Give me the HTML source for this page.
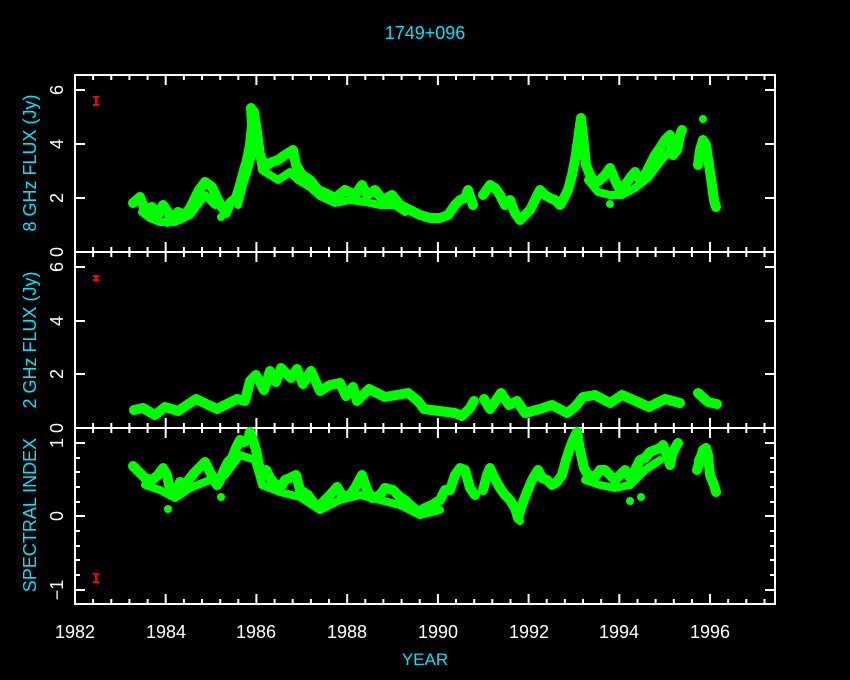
<!DOCTYPE html>
<html><head><meta charset="utf-8"><style>
html,body{margin:0;padding:0;background:#000;}
svg{display:block}
text{font-family:"Liberation Sans",sans-serif;}
</style></head><body>
<svg width="850" height="680" viewBox="0 0 850 680" xmlns="http://www.w3.org/2000/svg">
<rect width="850" height="680" fill="#000"/>
<text x="425" y="39" fill="#00e5ff" font-size="18" text-anchor="middle">1749+096</text>
<text x="425" y="665" fill="#00e5ff" font-size="17" text-anchor="middle">YEAR</text>
<g fill="#00e5ff" font-size="18" text-anchor="middle">
<text transform="translate(36,163) rotate(-90)">8 GHz FLUX (Jy)</text>
<text transform="translate(36,340) rotate(-90)">2 GHz FLUX (Jy)</text>
<text transform="translate(36,515) rotate(-90)">SPECTRAL INDEX</text>
</g>
<g fill="#fff" font-size="18" text-anchor="middle">
<text transform="translate(63,90) rotate(-90)">6</text>
<text transform="translate(63,144) rotate(-90)">4</text>
<text transform="translate(63,198) rotate(-90)">2</text>
<text transform="translate(63,252) rotate(-90)">0</text>
<text transform="translate(63,267) rotate(-90)">6</text>
<text transform="translate(63,321) rotate(-90)">4</text>
<text transform="translate(63,374) rotate(-90)">2</text>
<text transform="translate(63,428) rotate(-90)">0</text>
<text transform="translate(63,443) rotate(-90)">1</text>
<text transform="translate(63,516) rotate(-90)">0</text>
<text transform="translate(63,590) rotate(-90)">−1</text>
</g>
<g fill="#fff" font-size="18" text-anchor="middle">
<text x="75" y="638">1982</text><text x="166" y="638">1984</text><text x="256" y="638">1986</text>
<text x="347" y="638">1988</text><text x="438" y="638">1990</text><text x="529" y="638">1992</text>
<text x="619" y="638">1994</text><text x="710" y="638">1996</text>
</g>
<g stroke="#fff" stroke-width="2" fill="none">
<rect x="75" y="75" width="700" height="529"/>
<line x1="75" y1="252" x2="775" y2="252"/>
<line x1="75" y1="428" x2="775" y2="428"/>
</g>
<g stroke="#fff" stroke-width="2" id="xt"></g>
<g stroke="#fff" stroke-width="2">
<path d="M75 90h10M75 144h10M75 198h10M775 90h-10M775 144h-10M775 198h-10
M75 267h10M75 321h10M75 374h10M775 267h-10M775 321h-10M775 374h-10
M75 443h10M75 516h10M75 590h10M775 443h-10M775 516h-10M775 590h-10"/>
<path d="M75 458h5M75 472h5M75 487h5M75 502h5M75 531h5M75 546h5M75 560h5M75 575h5
M775 458h-5M775 472h-5M775 487h-5M775 502h-5M775 531h-5M775 546h-5M775 560h-5M775 575h-5"/>
</g>
<g stroke="#f00" stroke-width="2">
<path d="M96 97v8M93 97h6M93 105h6"/>
<path d="M96 276v4M93 276h6M93 280h6"/>
<path d="M96 574v8M93 574h6M93 582h6"/>
</g>
<g fill="none" stroke="#00ff00" stroke-width="10" stroke-linejoin="round" stroke-linecap="round">
<polyline points="133,203 140,197 145,210 152,207 158,215 163,205 168,212 172,220 178,212 185,215 190,208 194,200 199,190 205,182 212,187 218,200 222,207 226,213 230,203 236,198 240,185 244,170 247,160 250,145 252,125 251,108 254,112 256,125 258,140 260,155 262,160 267,165 272,162 278,160 285,155 293,150 296,165 302,175 310,180 318,190 325,193 335,198 345,190 355,195 362,185 367,195 375,190 383,200 392,195 400,205 410,210 420,215 430,218 440,218 448,215 455,205 460,200 465,198 468,190 473,205"/>
<polyline stroke-width="8" points="238,205 243,185 248,170 252,155 257,140 262,170 270,175 278,180 290,172 298,180 310,187 320,196 335,203 350,200 365,202 380,205 395,205 405,212"/>
<polyline stroke-width="8" points="142,212 150,218 160,222 175,222 190,215 205,195 215,205"/>
<polyline points="483,195 490,185 495,188 500,195 505,205 510,200 515,213 520,220 525,215 530,210 535,200 540,190 545,195 550,198 555,200 560,205 563,200 568,190 572,175 575,160 578,140 580,125 581,118 584,145 586,165 590,175 595,183 600,180 605,175 610,168 615,180 620,190 625,185 630,178 635,172 640,180 645,175 650,165 655,155 660,148 665,140 670,135 673,155 677,150 680,135 682,130"/>
<polyline stroke-width="8" points="588,180 598,192 610,195 622,195 635,188 648,178 660,162 672,148 680,140"/>
<polyline points="698,165 700,150 703,140 706,145 709,165 712,185 714,200 716,207"/>
<polyline points="134,410 143,408 155,415 165,407 178,411 196,399 217,409 237,399 245,401 250,381 256,375 264,390 270,371 276,382 281,368 291,378 297,369 303,384 311,371 320,391 330,385 340,383 346,396 353,387 357,401 369,389 385,397 408,393 418,401 424,409 439,411 455,413 462,416 470,408 474,401"/>
<polyline points="484,399 490,409 501,393 509,405 517,401 525,413 540,409 552,405 567,413 575,407 583,397 595,395 610,403 622,395 638,402 649,407 665,399 680,403"/>
<polyline points="698,393 708,402 717,404"/>
<polyline points="133,466 140,473 145,478 152,480 158,475 163,468 167,475 170,490 175,493 180,482 185,485 190,478 195,472 199,468 205,462 210,472 213,478 217,485 220,480 224,470 228,462 232,458 236,448 240,440 244,442 248,440 250,432 253,440 256,450 259,465 262,475 266,470 270,478 274,483 280,488 285,480 290,478 296,475 300,490 308,495 315,505 320,505 325,500 330,495 337,487 343,497 350,495 355,488 362,475 367,490 372,498 380,495 385,488 393,490 400,497 405,500 410,505 418,512 425,508 432,505 440,500 445,490 450,490 455,475 460,468 465,470 470,488 475,495"/>
<polyline stroke-width="8" points="145,485 160,490 175,498 190,488 210,480 225,475 240,455 255,460 262,485 280,492 300,497 320,510 340,500 360,495 380,500 400,505 420,515 440,510"/>
<polyline points="483,490 487,475 490,468 493,475 500,488 505,495 510,500 515,508 518,518 522,505 527,492 532,480 538,470 542,478 547,480 552,485 557,482 562,475 566,460 570,448 573,440 577,432 580,450 584,468 588,475 595,477 600,470 605,470 610,475 615,480 620,475 625,470 630,478 635,470 640,460 645,458 650,452 655,450 660,448 663,445 667,455 670,465 672,455 675,448 678,443"/>
<polyline stroke-width="8" points="585,480 600,485 615,488 630,485 645,470 660,460"/>
<polyline points="697,470 700,460 703,450 706,448 708,455 710,475 714,485 716,492"/>
<polyline stroke-width="8" points="698,460 702,452 708,452"/>
</g>
<g fill="#00ff00">
<circle cx="167" cy="223" r="4"/><circle cx="221" cy="217" r="4"/><circle cx="610" cy="204" r="4"/>
<circle cx="630" cy="190" r="4"/><circle cx="703" cy="119" r="4"/><circle cx="168" cy="509" r="4"/>
<circle cx="221" cy="497" r="4"/><circle cx="630" cy="501" r="4"/><circle cx="641" cy="497" r="4"/><circle cx="520" cy="521" r="4"/>
</g>
<script>
var g=document.getElementById('xt'),d='';
for(var i=0;i<=38;i++){var yr=1982+i*0.4;var x=75+(yr-1982)*45.36;if(x>775)break;
var maj=(i%5==0),L=maj?10:5;x=x.toFixed(1);
[75,252,428].forEach(function(y){d+='M'+x+' '+y+'v'+L;});
[252,428,604].forEach(function(y){d+='M'+x+' '+y+'v-'+L;});}
var p=document.createElementNS('http://www.w3.org/2000/svg','path');p.setAttribute('d',d);g.appendChild(p);
</script>
</svg>
</body></html>
